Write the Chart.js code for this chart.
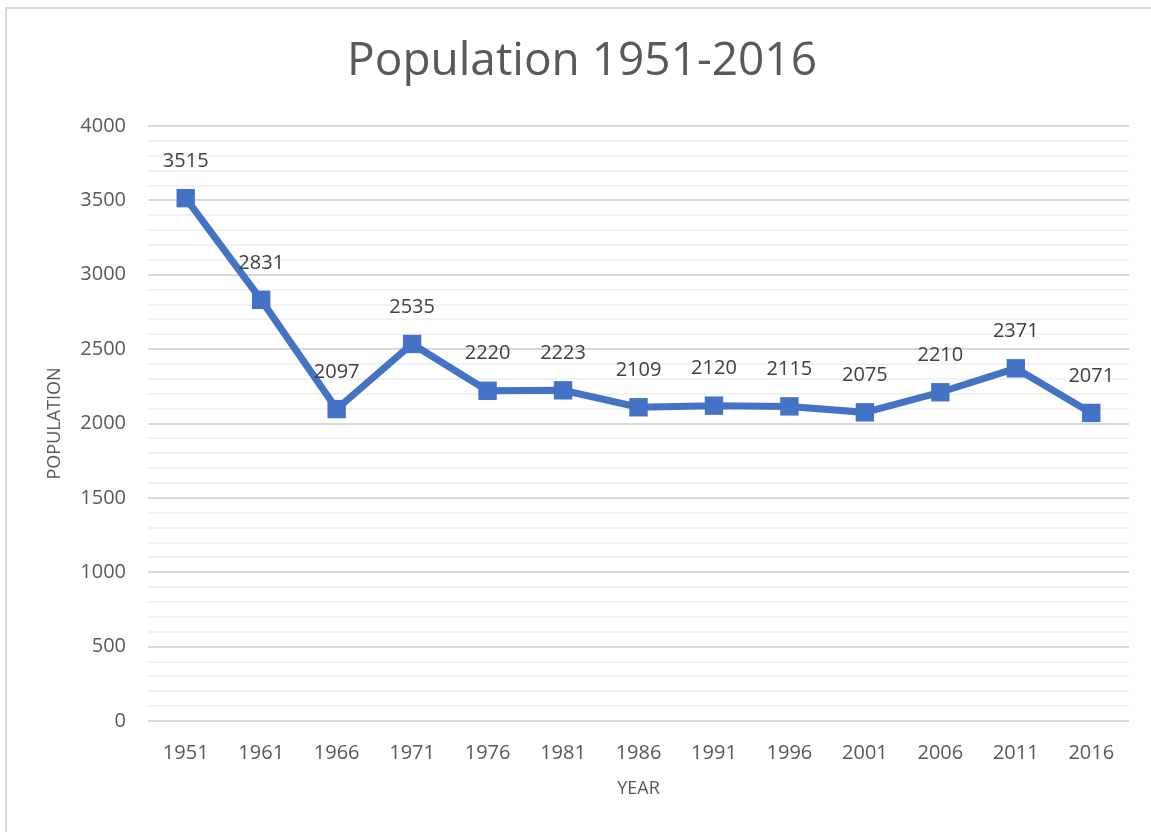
<!DOCTYPE html>
<html lang="en">

<head>
  <meta charset="UTF-8">
  <meta name="viewport" content="width=device-width, initial-scale=1.0">
  <title>Population 1951-2016</title>
  <style>
    body { margin: 0; background: #fff; overflow: hidden; }
    #quadro { position: absolute; left: 5px; top: 7px; width: 1200px; height: 900px; border: 2px solid #d9d9d9; box-sizing: border-box; }
    #wrap { position: absolute; left: 0; top: 0; width: 1151px; height: 832px; }
  </style>
</head>

<body>
  <div id="quadro"></div>
  <div id="wrap"><canvas id="grafico1"></canvas></div>

  <script src="https://cdn.jsdelivr.net/npm/chart.js"></script>

  <script>
    const anos = ["1951","1961","1966","1971","1976","1981","1986","1991","1996","2001","2006","2011","2016"]
    const populacao = [3515, 2831, 2097, 2535, 2220, 2223, 2109, 2120, 2115, 2075, 2210, 2371, 2071]
    const marcasY = [0, 500, 1000, 1500, 2000, 2500, 3000, 3500, 4000]
    const titulo = 'Population 1951-2016'

    const azul = '#4472C4'
    const fonte = '"Open Sans", sans-serif'

    // titulo e rotulos em cima de cada ponto
    const rotulos = {
      id: 'rotulos',
      afterDraw(chart) {
        const c = chart.ctx
        c.save()
        c.font = '46px ' + fonte
        c.fillStyle = '#595959'
        c.textAlign = 'center'
        c.textBaseline = 'middle'
        c.fillText(titulo, 582, 62)
        c.restore()
      },
      afterDatasetsDraw(chart) {
        const c = chart.ctx
        const meta = chart.getDatasetMeta(0)
        c.save()
        c.font = '20px ' + fonte
        c.fillStyle = '#404040'
        c.textAlign = 'center'
        c.textBaseline = 'middle'
        meta.data.forEach((p, i) => {
          c.fillText(String(populacao[i]), p.x, p.y - 37)
        })
        c.restore()
      }
    }

    const ctx = document.getElementById('grafico1')

    let grafico1 = new Chart(ctx, {
      type: 'line',
      data: {
        labels: anos,
        datasets: [{
          label: 'Population',
          data: populacao,
          borderColor: azul,
          backgroundColor: azul,
          borderWidth: 7,
          pointStyle: 'rect',
          pointRadius: 13,
          pointBorderWidth: 0,
          tension: 0
        }]
      },
      plugins: [rotulos],
      options: {
        responsive: true,
        maintainAspectRatio: false,
        animation: false,
        layout: { padding: { left: 0, right: 22, top: 126, bottom: 0 } },
        plugins: {
          legend: { display: false },
          tooltip: { enabled: false },
          title: { display: false }
        },
        scales: {
          x: {
            offset: true,
            grid: { display: false, drawTicks: false },
            border: { display: false },
            ticks: { color: '#595959', font: { family: fonte, size: 20 }, padding: 20, maxRotation: 0 },
            title: { display: true, text: 'YEAR', color: '#595959', font: { family: fonte, size: 18 }, padding: { top: 0, bottom: 32 } },
            afterFit: s => { s.height = 111 }
          },
          y: {
            min: 0,
            max: 4000,
            afterBuildTicks: s => {
              const t = []
              for (let v = 0; v <= 4000; v += 100) t.push({ value: v })
              s.ticks = t
            },
            grid: {
              drawTicks: false,
              lineWidth: 2,
              color: c => marcasY.includes(c.tick.value) ? '#d9d9d9' : '#f2f2f2'
            },
            border: { display: false },
            ticks: {
              autoSkip: false,
              color: '#595959',
              font: { family: fonte, size: 20 },
              padding: 22,
              callback: v => marcasY.includes(v) ? String(v) : ''
            },
            title: { display: true, text: 'POPULATION', color: '#595959', font: { family: fonte, size: 18 }, padding: { top: 44, bottom: 0 } },
            afterFit: s => { s.width = 148 }
          }
        }
      }
    })
  </script>
</body>

</html>
